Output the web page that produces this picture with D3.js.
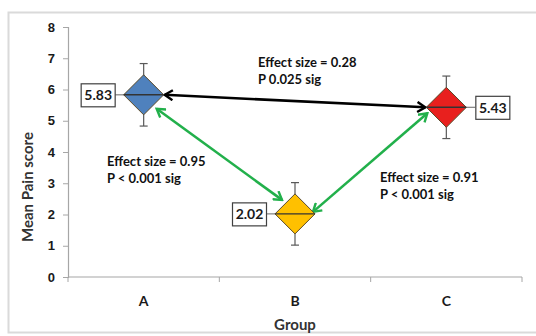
<!DOCTYPE html>
<html>
<head>
<meta charset="utf-8">
<script src="https://cdn.jsdelivr.net/npm/d3@7"></script>
<style>
  html, body { margin: 0; padding: 0; background: #fff; }
  svg { display: block; font-family: Lato, "Open Sans", sans-serif; }
</style>
</head>
<body>
<svg id="chart" width="536" height="336"></svg>
<script>
// Group means with ±1 error bars
const groups = ["A", "B", "C"];
const means = [5.83, 2.02, 5.43];
const errors = [1.0, 1.0, 1.0];
const yTicks = [0, 1, 2, 3, 4, 5, 6, 7, 8];

// Pairwise comparisons (indices into groups)
const pairFrom = [0, 0, 1];
const pairTo = [2, 1, 2];
const effectSizes = [0.28, 0.95, 0.91];
const pLabels = ["P 0.025 sig", "P < 0.001 sig", "P < 0.001 sig"];

const colors = ["#4f81bd", "#ffc000", "#e8201e"];

const svg = d3.select("#chart");
const W = 536, H = 336;
const m = { left: 68, right: 14, top: 27, bottom: 59 };

// outer frame
svg.append("rect")
  .attr("x", 8.5).attr("y", 12.5).attr("width", 560).attr("height", 320)
  .attr("fill", "none").attr("stroke", "#dadada").attr("stroke-width", 2);

const x = d3.scaleBand().domain(groups).range([m.left, W - m.right]).padding(0);
const y = d3.scaleLinear().domain([0, 8]).range([H - m.bottom, m.top]);

// y axis
const yAxis = svg.append("g")
  .attr("transform", `translate(${m.left},0)`)
  .call(d3.axisLeft(y).tickValues(yTicks).tickFormat(d3.format("d")).tickSize(5).tickPadding(8));
yAxis.select(".domain").attr("stroke", "#a6a6a6").attr("stroke-width", 1.2);
yAxis.selectAll(".tick line").attr("stroke", "#a6a6a6");
yAxis.selectAll("text").attr("font-size", 13).attr("font-weight", "bold").attr("fill", "#1a1a1a");

// x axis with ticks at category boundaries
const xAxisG = svg.append("g").attr("transform", `translate(0,${y(0)})`);
xAxisG.append("line")
  .attr("x1", m.left).attr("x2", W - m.right)
  .attr("stroke", "#a6a6a6").attr("stroke-width", 1.2);
const bounds = groups.map(g => x(g)).concat([x(groups[groups.length - 1]) + x.bandwidth()]);
xAxisG.selectAll(".bt").data(bounds).join("line")
  .attr("x1", d => d).attr("x2", d => d).attr("y1", 0).attr("y2", 5)
  .attr("stroke", "#a6a6a6");
xAxisG.selectAll(".cat").data(groups).join("text")
  .attr("x", d => x(d) + x.bandwidth() / 2).attr("y", 29)
  .attr("text-anchor", "middle").attr("font-size", 14).attr("font-weight", "bold")
  .attr("fill", "#1a1a1a").text(d => d);

// axis titles
svg.append("text")
  .attr("x", x("B") + x.bandwidth() / 2).attr("y", 330)
  .attr("text-anchor", "middle").attr("font-size", 15).attr("font-weight", "bold")
  .attr("fill", "#333").text("Group");
svg.append("text")
  .attr("transform", "translate(33,187) rotate(-90)")
  .attr("text-anchor", "middle").attr("font-size", 15).attr("font-weight", "bold")
  .attr("fill", "#333").text("Mean Pain score");

// arrow markers (open chevrons)
const defs = svg.append("defs");
function marker(id, color) {
  defs.append("marker")
    .attr("id", id).attr("viewBox", "-10 -6 12 12")
    .attr("refX", 0).attr("refY", 0)
    .attr("markerWidth", 12).attr("markerHeight", 12)
    .attr("markerUnits", "userSpaceOnUse")
    .attr("orient", "auto-start-reverse")
    .append("path").attr("d", "M-8,-5 L0,0 L-8,5")
    .attr("fill", "none").attr("stroke", color).attr("stroke-width", 2.4)
    .attr("stroke-linejoin", "miter");
}
marker("arrBlack", "#000");
marker("arrGreen", "#22b04b");

const cx = i => x(groups[i]) + x.bandwidth() / 2;
const cy = i => y(means[i]);
const R = 20; // diamond half-size

// endpoint offsets for each comparison arrow, relative to group centres
const startOff = [[R + 1, 0], [13, 14], [18, -2]];
const endOff = [[-R - 1, 0], [-13, -14], [-19, 6]];
const arrowColor = ["#000", "#22b04b", "#22b04b"];
const arrowMarker = ["arrBlack", "arrGreen", "arrGreen"];

svg.selectAll(".cmp").data(effectSizes).join("line")
  .attr("x1", (d, i) => cx(pairFrom[i]) + startOff[i][0])
  .attr("y1", (d, i) => cy(pairFrom[i]) + startOff[i][1])
  .attr("x2", (d, i) => cx(pairTo[i]) + endOff[i][0])
  .attr("y2", (d, i) => cy(pairTo[i]) + endOff[i][1])
  .attr("stroke", (d, i) => arrowColor[i]).attr("stroke-width", 2.6)
  .attr("marker-start", (d, i) => `url(#${arrowMarker[i]})`)
  .attr("marker-end", (d, i) => `url(#${arrowMarker[i]})`);

// comparison annotations
const annX = [258, 107, 380];
const annY = [67, 166, 182];
effectSizes.forEach((e, i) => {
  const t = svg.append("text").attr("font-size", 13).attr("font-weight", "bold").attr("fill", "#111");
  t.append("tspan").attr("x", annX[i]).attr("y", annY[i]).text(`Effect size = ${e.toFixed(2)}`);
  t.append("tspan").attr("x", annX[i]).attr("y", annY[i] + 17).text(pLabels[i]);
});

// error bars
const cap = 4;
groups.forEach((g, i) => {
  const gx = cx(i);
  const top = y(means[i] + errors[i]), bot = y(means[i] - errors[i]);
  svg.append("line").attr("x1", gx).attr("x2", gx).attr("y1", top).attr("y2", bot)
    .attr("stroke", "#595959").attr("stroke-width", 1.2);
  [top, bot].forEach(v => svg.append("line")
    .attr("x1", gx - cap).attr("x2", gx + cap).attr("y1", v).attr("y2", v)
    .attr("stroke", "#595959").attr("stroke-width", 1.2));
});

// value labels with leader lines
const labelSide = [-1, -1, 1];
const boxW = 34, boxH = 23, gap = 9;
groups.forEach((g, i) => {
  const gx = cx(i), gy = cy(i), s = labelSide[i];
  const bx = s < 0 ? gx - R - gap - boxW : gx + R + gap;
  svg.append("line")
    .attr("x1", s < 0 ? bx + boxW : gx + R).attr("x2", s < 0 ? gx - R : bx)
    .attr("y1", gy).attr("y2", gy).attr("stroke", "#7f7f7f").attr("stroke-width", 1.2);
  svg.append("rect").attr("x", bx + 0.5).attr("y", gy - boxH / 2 + 0.5)
    .attr("width", boxW).attr("height", boxH)
    .attr("fill", "#fff").attr("stroke", "#404040").attr("stroke-width", 1.2);
  svg.append("text").attr("x", bx + boxW / 2 + 0.5).attr("y", gy + 5.5)
    .attr("text-anchor", "middle").attr("font-size", 14).attr("font-weight", "bold")
    .attr("fill", "#1a1a1a").text(means[i].toFixed(2));
});

// diamonds with mean line
groups.forEach((g, i) => {
  const gx = cx(i), gy = cy(i);
  svg.append("path")
    .attr("d", `M${gx - R},${gy} L${gx},${gy - R} L${gx + R},${gy} L${gx},${gy + R} Z`)
    .attr("fill", colors[i]).attr("stroke", "#5a4a2a").attr("stroke-width", 1);
  svg.append("line").attr("x1", gx - R).attr("x2", gx + R).attr("y1", gy).attr("y2", gy)
    .attr("stroke", "#333").attr("stroke-width", 1.4);
});
</script>
</body>
</html>
